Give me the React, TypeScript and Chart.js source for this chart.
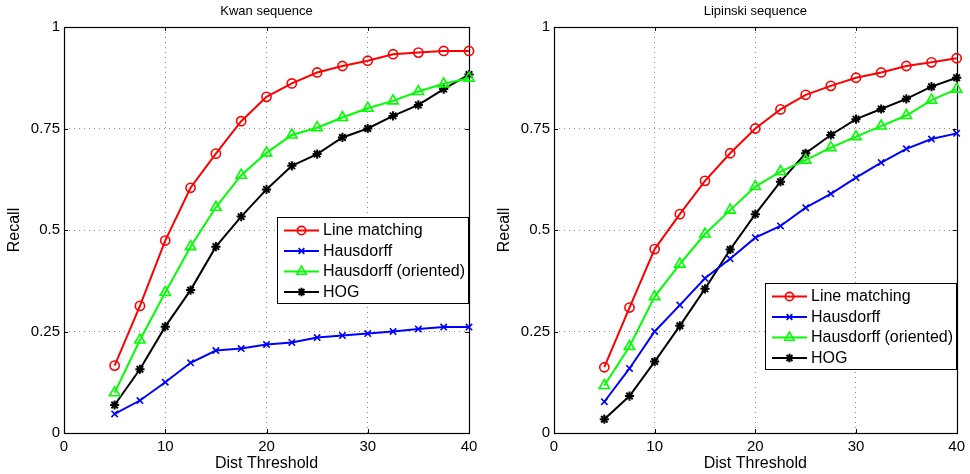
import React, { useEffect, useRef } from "react";
import { Chart, registerables } from "chart.js";
import { drawPoint } from "chart.js/helpers";

Chart.register(...registerables);

const FONT = "'Liberation Sans', Arial, Helvetica, sans-serif";

const thresholds = [5, 7.5, 10, 12.5, 15, 17.5, 20, 22.5, 25, 27.5, 30, 32.5, 35, 37.5, 40];
const seriesNames = ["Line matching", "Hausdorff", "Hausdorff (oriented)", "HOG"];

const kwanLineMatching = [0.166, 0.313, 0.474, 0.604, 0.688, 0.768, 0.828, 0.861, 0.888, 0.904, 0.917, 0.933, 0.937, 0.941, 0.941];
const kwanHausdorff = [0.047, 0.08, 0.125, 0.173, 0.203, 0.208, 0.218, 0.223, 0.235, 0.24, 0.245, 0.25, 0.256, 0.261, 0.261];
const kwanHausdorffOriented = [0.099, 0.229, 0.346, 0.459, 0.556, 0.635, 0.69, 0.734, 0.752, 0.777, 0.8, 0.818, 0.841, 0.86, 0.874];
const kwanHog = [0.069, 0.157, 0.262, 0.352, 0.459, 0.533, 0.6, 0.658, 0.687, 0.728, 0.75, 0.781, 0.808, 0.847, 0.883];

const lipLineMatching = [0.162, 0.309, 0.453, 0.539, 0.621, 0.689, 0.75, 0.797, 0.833, 0.855, 0.875, 0.888, 0.904, 0.913, 0.923];
const lipHausdorff = [0.077, 0.159, 0.25, 0.315, 0.381, 0.429, 0.481, 0.51, 0.555, 0.589, 0.629, 0.666, 0.7, 0.724, 0.738];
const lipHausdorffOriented = [0.117, 0.213, 0.336, 0.416, 0.49, 0.549, 0.607, 0.644, 0.672, 0.703, 0.73, 0.756, 0.782, 0.82, 0.847];
const lipHog = [0.034, 0.091, 0.176, 0.264, 0.355, 0.452, 0.539, 0.619, 0.689, 0.734, 0.773, 0.798, 0.823, 0.853, 0.875];

const xTicks = [0, 10, 20, 30, 40];
const yTicks = [0, 0.25, 0.5, 0.75, 1];

const seriesStyles = [
  { color: "#ff0000", pointStyle: "circle", radius: 4.6, fill: "rgba(0,0,0,0)", pbw: 1.6 },
  { color: "#0000ff", pointStyle: "crossRot", radius: 4.5, fill: "rgba(0,0,0,0)", pbw: 1.6 },
  { color: "#00ff00", pointStyle: "triangle", radius: 6, fill: "rgba(0,0,0,0)", pbw: 1.6 },
  { color: "#000000", pointStyle: "star", radius: 4.6, fill: "rgba(0,0,0,0)", pbw: 2 },
];

const framePlugin = {
  id: "frame",
  beforeDatasetsDraw(chart: any) {
    const { ctx, chartArea, scales } = chart;
    const { left, top, right, bottom } = chartArea;
    ctx.save();
    ctx.strokeStyle = "#000";
    ctx.lineWidth = 1;
    ctx.beginPath();
    xTicks.forEach((v) => {
      const px = Math.round(scales.x.getPixelForValue(v)) + 0.5;
      ctx.moveTo(px, bottom);
      ctx.lineTo(px, bottom - 4);
      ctx.moveTo(px, top);
      ctx.lineTo(px, top + 4);
    });
    yTicks.forEach((v) => {
      const py = Math.round(scales.y.getPixelForValue(v)) + 0.5;
      ctx.moveTo(left, py);
      ctx.lineTo(left + 4, py);
      ctx.moveTo(right, py);
      ctx.lineTo(right - 4, py);
    });
    ctx.stroke();
    ctx.lineWidth = 1.2;
    ctx.strokeRect(Math.round(left) + 0.5, Math.round(top) + 0.5, Math.round(right - left), Math.round(bottom - top));
    ctx.restore();
  },
};

const boxLegendPlugin = {
  id: "boxLegend",
  afterDatasetsDraw(chart: any, _args: any, opts: any) {
    const { ctx, chartArea } = chart;
    const w = opts.width;
    const h = opts.height;
    const bx = Math.round(chartArea.right - w);
    const by = Math.round(chartArea.top + opts.top);
    ctx.save();
    ctx.fillStyle = "#fff";
    ctx.fillRect(bx, by, w, h);
    ctx.strokeStyle = "#000";
    ctx.lineWidth = 1;
    ctx.strokeRect(bx + 0.5, by + 0.5, w - 1, h - 1);
    chart.data.datasets.forEach((ds: any, i: number) => {
      const cy = by + 13.5 + i * 20.5;
      ctx.strokeStyle = ds.borderColor;
      ctx.lineWidth = 2;
      ctx.setLineDash([]);
      ctx.beginPath();
      ctx.moveTo(bx + 7, cy);
      ctx.lineTo(bx + 42, cy);
      ctx.stroke();
      ctx.fillStyle = ds.pointBackgroundColor;
      ctx.strokeStyle = ds.pointBorderColor;
      ctx.lineWidth = ds.pointBorderWidth;
      drawPoint(
        ctx,
        { pointStyle: ds.pointStyle, radius: ds.pointRadius * 0.9, borderWidth: ds.pointBorderWidth, rotation: 0 },
        bx + 24.5,
        cy
      );
      ctx.fillStyle = "#000";
      ctx.font = `16px ${FONT}`;
      ctx.textBaseline = "middle";
      ctx.textAlign = "left";
      ctx.fillText(ds.label, bx + 46, cy + 0.5);
    });
    ctx.restore();
  },
};

type PanelProps = {
  title: string;
  series: number[][];
  left: number;
  width: number;
  yAxisWidth: number;
  rightPad: number;
  yTitlePad: number;
  legendTop: number;
};

function Panel({ title, series, left, width, yAxisWidth, rightPad, yTitlePad, legendTop }: PanelProps) {
  const ref = useRef<HTMLCanvasElement | null>(null);
  useEffect(() => {
    if (!ref.current) return;
    const datasets = series.map((vals, i) => {
      const s = seriesStyles[i];
      return {
        label: seriesNames[i],
        data: thresholds.map((t, j) => ({ x: t, y: vals[j] })),
        borderColor: s.color,
        backgroundColor: s.color,
        borderWidth: 2,
        pointStyle: s.pointStyle,
        pointRadius: s.radius,
        pointHoverRadius: s.radius,
        pointBorderColor: s.color,
        pointBackgroundColor: s.fill,
        pointBorderWidth: s.pbw,
        tension: 0,
        fill: false,
        clip: false,
      };
    });
    const chart = new Chart(ref.current, {
      type: "line",
      data: { datasets },
      plugins: [framePlugin, boxLegendPlugin],
      options: {
        animation: false,
        responsive: false,
        maintainAspectRatio: false,
        events: [],
        layout: { padding: { left: 0, right: rightPad, top: 0, bottom: 0 } },
        plugins: {
          legend: { display: false },
          tooltip: { enabled: false },
          title: {
            display: true,
            text: title,
            fullSize: false,
            color: "#000",
            font: { family: FONT, size: 13, weight: "normal" },
            padding: { top: 3.5, bottom: 7.9 },
          },
          boxLegend: { width: 192, height: 87, top: legendTop },
        } as any,
        scales: {
          x: {
            type: "linear",
            min: 0,
            max: 40,
            afterBuildTicks: (s: any) => {
              s.ticks = xTicks.map((v) => ({ value: v }));
            },
            afterFit: (s: any) => {
              s.height = 41;
            },
            ticks: {
              color: "#000",
              font: { family: FONT, size: 15 },
              padding: 5,
              maxRotation: 0,
              callback: (v: any) => String(v),
            },
            grid: {
              drawTicks: false,
              color: (c: any) => (c.tick && (c.tick.value === 0 || c.tick.value === 40) ? "rgba(0,0,0,0)" : "#8c8c8c"),
              lineWidth: 1,
            },
            border: { display: false, dash: [1, 4] },
            title: {
              display: true,
              text: "Dist Threshold",
              color: "#000",
              font: { family: FONT, size: 16 },
              padding: { top: 0, bottom: 1 },
            },
          },
          y: {
            type: "linear",
            min: 0,
            max: 1,
            afterBuildTicks: (s: any) => {
              s.ticks = yTicks.map((v) => ({ value: v }));
            },
            afterFit: (s: any) => {
              s.width = yAxisWidth;
            },
            ticks: {
              color: "#000",
              font: { family: FONT, size: 15 },
              padding: 4,
              callback: (v: any) => String(v),
            },
            grid: {
              drawTicks: false,
              color: (c: any) => (c.tick && (c.tick.value === 0 || c.tick.value === 1) ? "rgba(0,0,0,0)" : "#8c8c8c"),
              lineWidth: 1,
            },
            border: { display: false, dash: [1, 4] },
            title: {
              display: true,
              text: "Recall",
              color: "#000",
              font: { family: FONT, size: 16 },
              padding: { top: yTitlePad, bottom: 0 },
            },
          },
        },
      } as any,
    });
    return () => chart.destroy();
  }, []);
  return (
    <canvas
      ref={ref}
      width={width}
      height={474}
      style={{ position: "absolute", left, top: 0, width, height: 474, display: "block" }}
    />
  );
}

export default function App() {
  return (
    <div style={{ position: "fixed", left: 0, top: 0, width: 970, height: 474, background: "#fff", overflow: "hidden" }}>
      <Panel
        title="Kwan sequence"
        series={[kwanLineMatching, kwanHausdorff, kwanHausdorffOriented, kwanHog]}
        left={0}
        width={485}
        yAxisWidth={64}
        rightPad={16}
        yTitlePad={5}
        legendTop={190}
      />
      <Panel
        title="Lipinski sequence"
        series={[lipLineMatching, lipHausdorff, lipHausdorffOriented, lipHog]}
        left={485}
        width={485}
        yAxisWidth={69}
        rightPad={11}
        yTitlePad={10.4}
        legendTop={256}
      />
    </div>
  );
}
